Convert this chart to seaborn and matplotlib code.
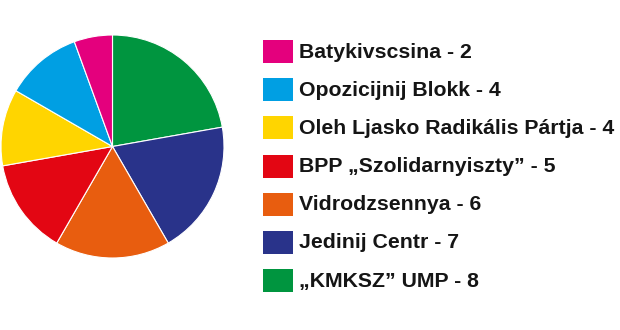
import matplotlib
matplotlib.use("Agg")
import matplotlib.pyplot as plt
import seaborn as sns
from matplotlib.patches import Rectangle

sns.set_theme(style="white")
plt.rcParams['font.family'] = ['Liberation Sans', 'DejaVu Sans']

# Data (legend order, top to bottom)
parties = ["Batykivscsina", "Opozicijnij Blokk", "Oleh Ljasko Radikális Pártja",
           "BPP \u201eSzolidarnyiszty\u201d", "Vidrodzsennya", "Jedinij Centr",
           "\u201eKMKSZ\u201d UMP"]
seats = [2, 4, 4, 5, 6, 7, 8]
colors = ["#E4007D", "#009FE3", "#FFD500", "#E30613", "#E85D0F", "#29338A", "#00953F"]

W, H = 620, 330
fig = plt.figure(figsize=(W / 100, H / 100), dpi=100)
fig.patch.set_facecolor("white")

# Pie: clockwise from 12 o'clock, largest first
cx, cy, r = 112.5, 146.5, 111.5
ax = fig.add_axes([(cx - r) / W, (H - cy - r) / H, 2 * r / W, 2 * r / H])
ax.pie(seats[::-1], colors=colors[::-1], startangle=90, counterclock=False,
       radius=1.0, wedgeprops=dict(edgecolor="white", linewidth=0.8))
ax.set_xlim(-1.0, 1.0)
ax.set_ylim(-1.0, 1.0)
ax.set_aspect("equal")
ax.axis("off")

# Legend drawn in pixel coordinates
lax = fig.add_axes([0, 0, 1, 1])
lax.set_xlim(0, W)
lax.set_ylim(H, 0)
lax.axis("off")
y0, dy = 51.5, 38.2
for i, (name, val, col) in enumerate(zip(parties, seats, colors)):
    yc = y0 + i * dy
    lax.add_patch(Rectangle((263, yc - 11.5), 30, 23, facecolor=col, edgecolor="none"))
    lax.text(299, yc + 0.5, f"{name} - {val}", fontsize=15.3, fontweight="bold",
             color="#151515", va="center", ha="left")

fig.savefig("out.png", dpi=100, facecolor="white")
